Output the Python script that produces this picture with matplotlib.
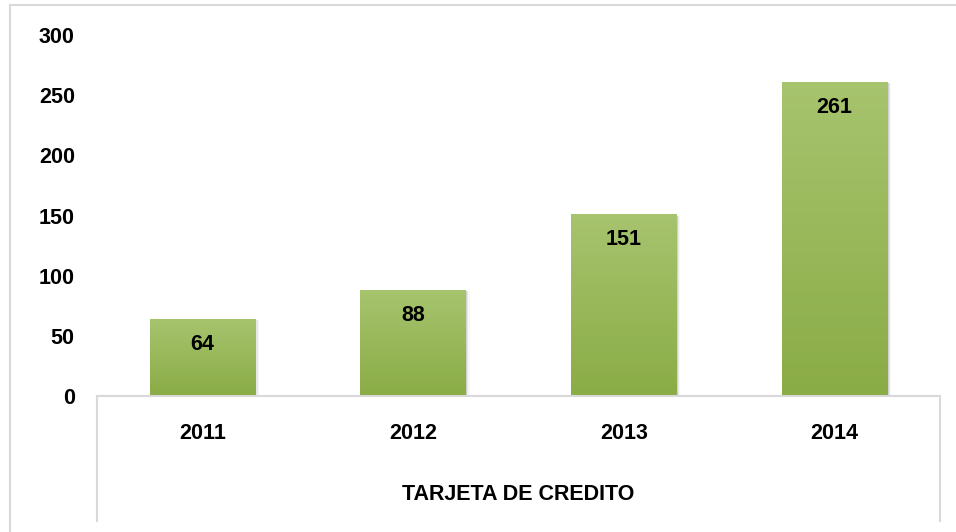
import matplotlib.pyplot as plt
import numpy as np
from matplotlib.lines import Line2D
from matplotlib.colors import LinearSegmentedColormap

# tarjetas de credito por año
years = ['2011', '2012', '2013', '2014']
values = [64, 88, 151, 261]
axis_title = 'TARJETA DE CREDITO'

plt.rcParams['font.family'] = ['Liberation Sans', 'DejaVu Sans']
plt.rcParams['font.weight'] = 'bold'
fs = 15.5

W, H = 956, 532
fig = plt.figure(figsize=(W / 100, H / 100), dpi=100)

def fx(px):
    return px / W

def fy(py):
    return 1 - py / H

# plot area: y=0 at 396 px, y=300 at 35 px
ax = fig.add_axes([fx(97), fy(396), fx(940) - fx(97), fy(35) - fy(396)])
ax.set_xlim(-0.5, len(years) - 0.5)
ax.set_ylim(0, 300)

green = LinearSegmentedColormap.from_list('g', ['#8aac46', '#a7c46e'])
grad = np.linspace(0, 1, 256).reshape(-1, 1)
x = np.arange(len(years))
width = 0.5

bars = ax.bar(x, values, width, color='none', edgecolor='none', zorder=3)
for b, v in zip(bars, values):
    x0 = b.get_x()
    # soft shadow to the right
    for k, a in enumerate([0.10, 0.06, 0.03]):
        off = 0.006 * (k + 1)
        ax.add_patch(plt.Rectangle((x0 + off, 0), width, v - 1, color='#000000',
                                   alpha=a, lw=0, zorder=2))
    im = ax.imshow(grad, cmap=green, aspect='auto', origin='lower',
                   extent=[x0, x0 + width, 0, v], zorder=3)
    im.set_clip_path(b)
    ax.text(b.get_x() + width / 2, v - 21, str(v), ha='center', va='center',
            fontsize=fs, fontweight='bold', color='black', zorder=4)

ax.set_xlim(-0.5, len(years) - 0.5)
ax.set_ylim(0, 300)
ax.set_yticks(range(0, 301, 50))
ax.set_xticks([])
for s in ax.spines.values():
    s.set_visible(False)
ax.tick_params(axis='y', length=0, pad=16, labelsize=fs)
for t in ax.get_yticklabels():
    t.set_fontweight('bold')

# year labels and category title below the axis
for i, yr in enumerate(years):
    ax.text(i, -31, yr, ha='center', va='center', fontsize=fs,
            fontweight='bold', transform=ax.transData, clip_on=False)
fig.text(fx(518), fy(494), axis_title, ha='center', va='center',
         fontsize=fs, fontweight='bold')

grey = '#d9d9d9'
# category box lines
fig.add_artist(Line2D([fx(97), fx(940)], [fy(396), fy(396)], color=grey, lw=1.5))
fig.add_artist(Line2D([fx(97), fx(97)], [fy(396), fy(521)], color=grey, lw=1.5))
fig.add_artist(Line2D([fx(940), fx(940)], [fy(396), fy(521)], color=grey, lw=1.5))
# chart border
fig.add_artist(Line2D([fx(10), fx(10)], [fy(5), 0], color=grey, lw=1.5))
fig.add_artist(Line2D([fx(10), 1], [fy(5), fy(5)], color=grey, lw=1.5))

fig.savefig('out.png', dpi=100)
